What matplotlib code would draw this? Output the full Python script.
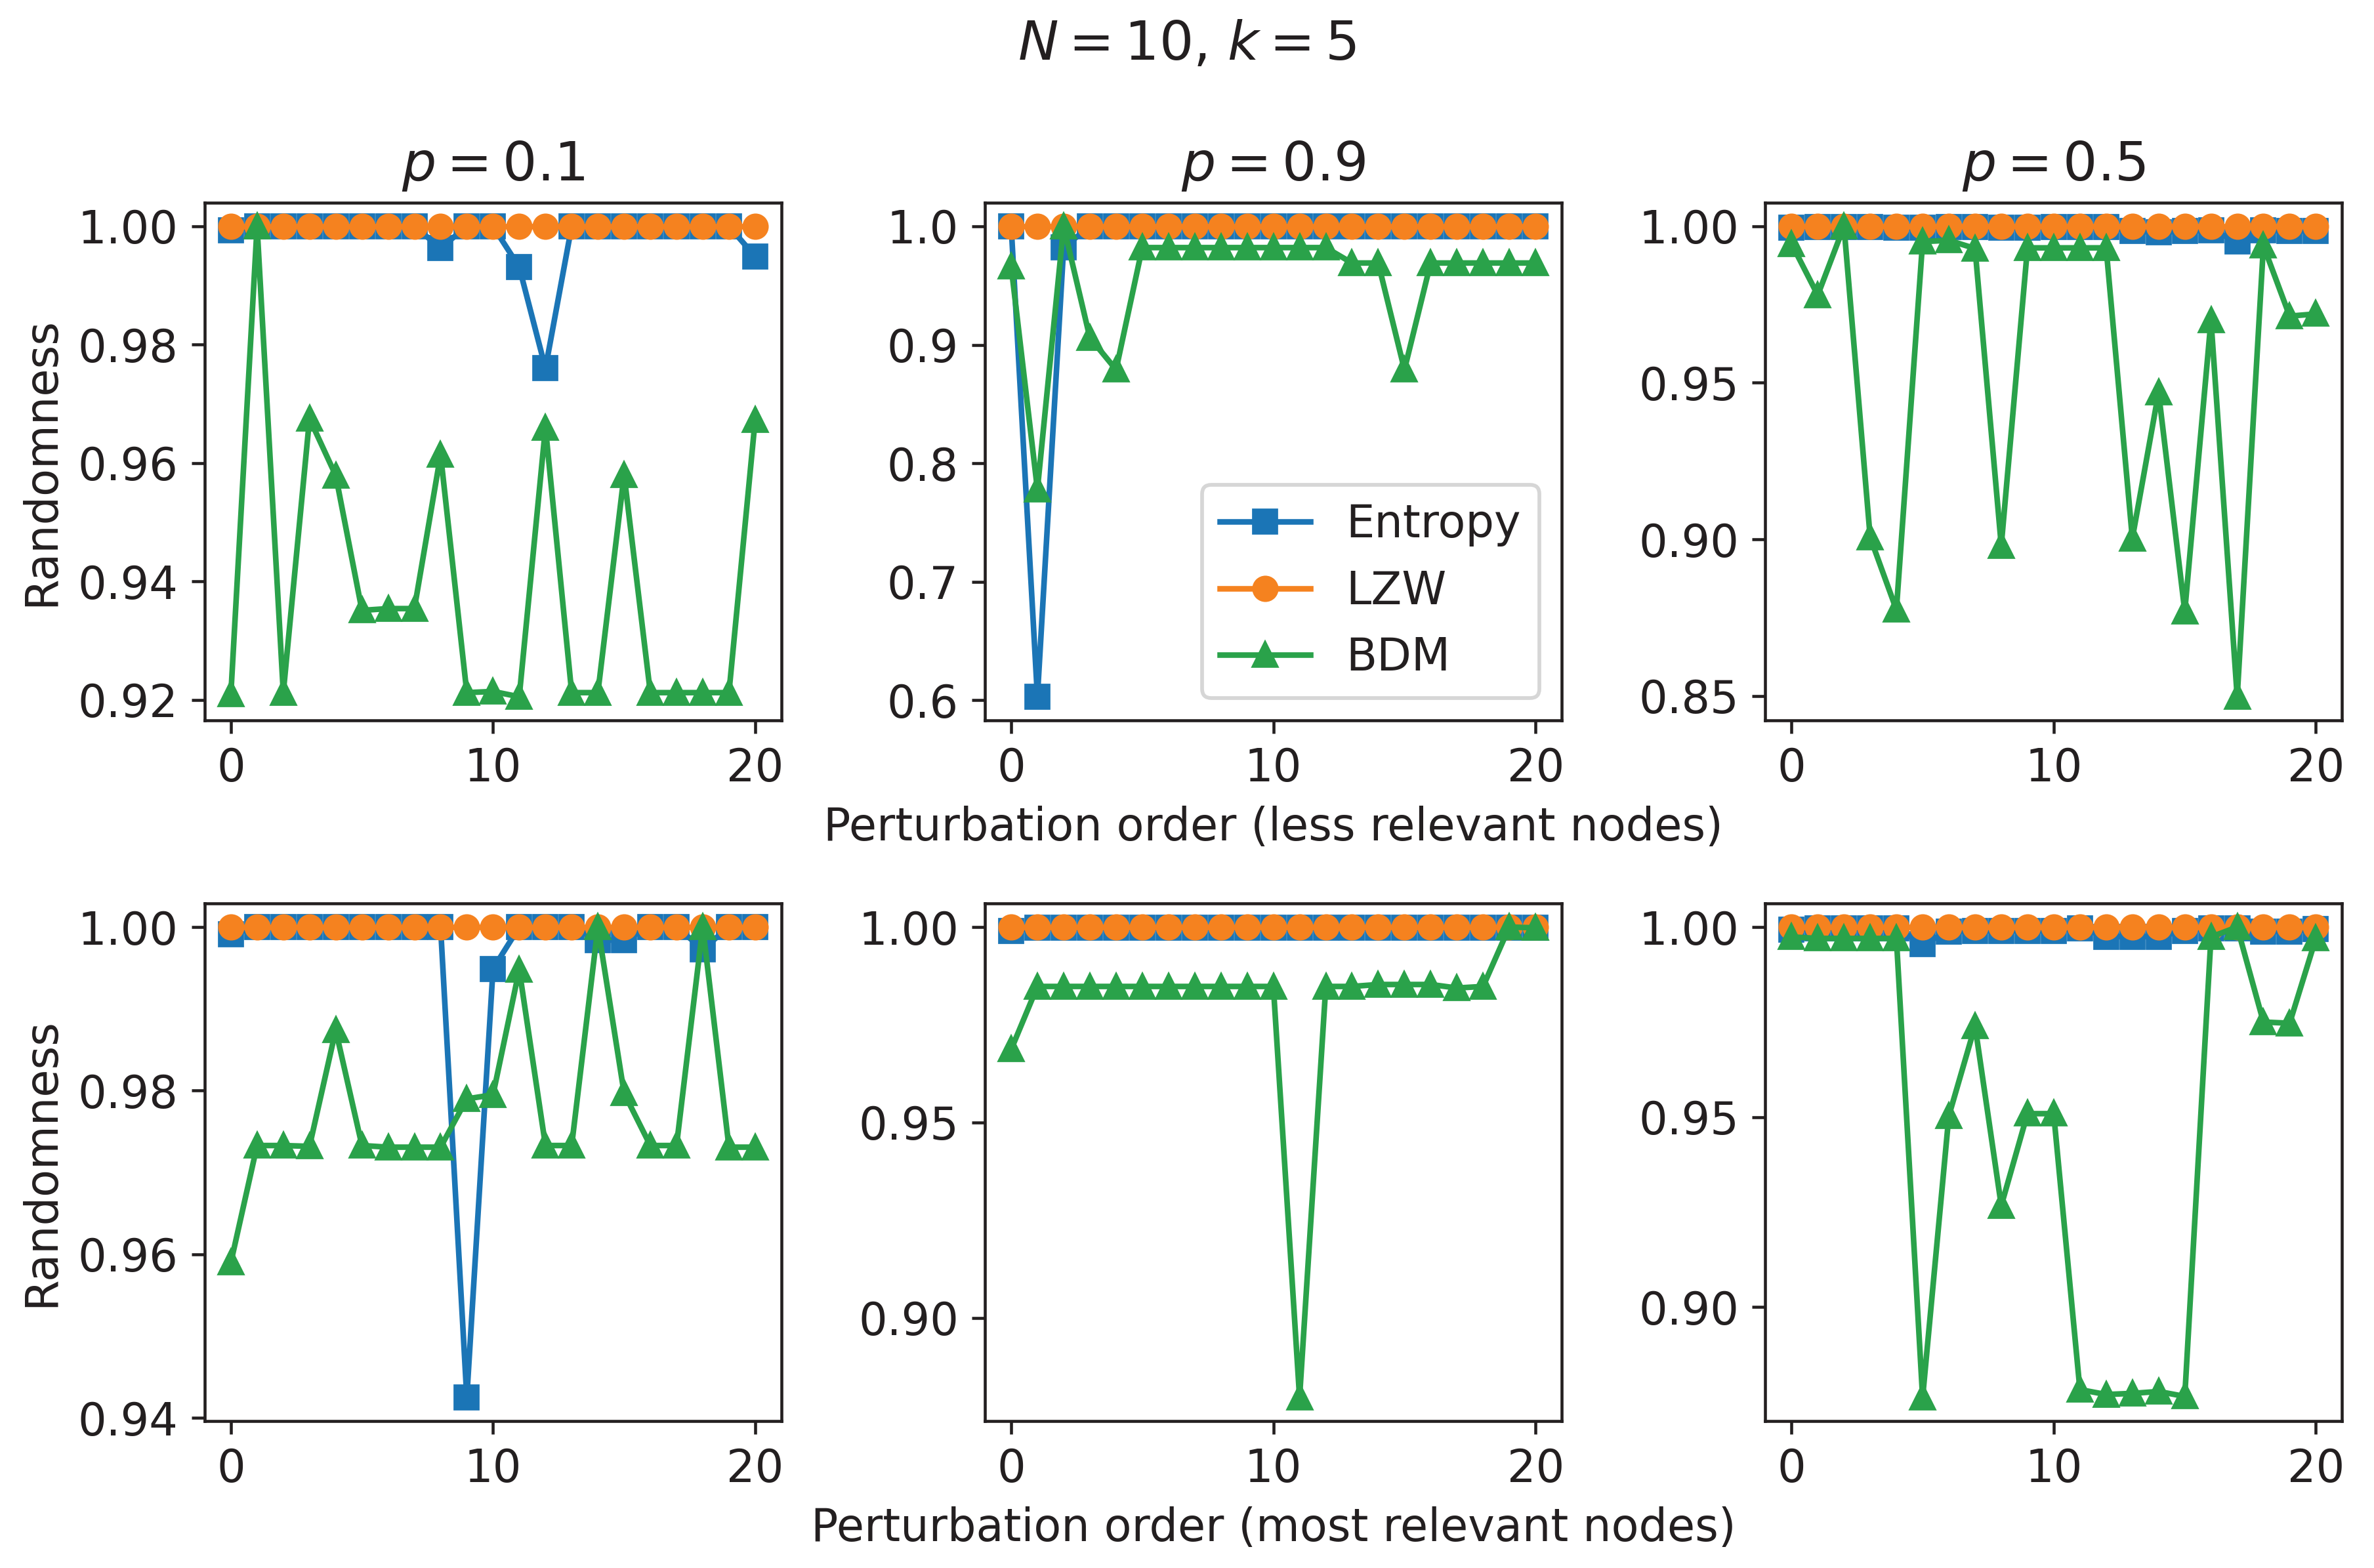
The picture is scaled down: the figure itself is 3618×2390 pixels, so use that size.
import numpy as np
import matplotlib
matplotlib.use("Agg")
import matplotlib.pyplot as plt
from matplotlib.ticker import MultipleLocator, FormatStrFormatter

# Colours as they appear in the reference
c_entropy = "#1b75b6"
c_lzw = "#f5821f"
c_bdm = "#2aa24a"
ink = "#231f20"

plt.rcParams["font.size"] = 12
plt.rcParams["text.color"] = ink
plt.rcParams["axes.edgecolor"] = ink
plt.rcParams["axes.labelcolor"] = ink
plt.rcParams["xtick.color"] = ink
plt.rcParams["ytick.color"] = ink

order = np.arange(21)
p_titles = ["$p = 0.1$", "$p = 0.9$", "$p = 0.5$"]

# top row: less relevant nodes
entropy_less_01 = [0.9993, 1.0, 1.0, 1.0, 1.0, 1.0, 1.0, 1.0, 0.9963, 1.0, 1.0,
                   0.9931, 0.9760, 1.0, 1.0, 1.0, 1.0, 1.0, 1.0, 1.0, 0.9949]
lzw_less_01 = [1.0] * 21
bdm_less_01 = [0.9209, 1.0, 0.9212, 0.9675, 0.9579, 0.9351, 0.9354, 0.9354, 0.9614, 0.9212, 0.9214,
               0.9205, 0.9660, 0.9212, 0.9212, 0.9580, 0.9212, 0.9212, 0.9212, 0.9212, 0.9673]

entropy_less_09 = [1.0, 0.603, 0.982, 1.0, 1.0, 1.0, 1.0, 1.0, 1.0, 1.0, 1.0,
                   1.0, 1.0, 1.0, 1.0, 1.0, 1.0, 1.0, 1.0, 1.0, 1.0]
lzw_less_09 = [1.0] * 21
bdm_less_09 = [0.966, 0.778, 1.0, 0.906, 0.879, 0.982, 0.982, 0.982, 0.982, 0.982, 0.982,
               0.982, 0.982, 0.969, 0.969, 0.879, 0.969, 0.969, 0.969, 0.969, 0.969]

entropy_less_05 = [0.9995, 0.9998, 0.9998, 0.9998, 0.9995, 0.9995, 0.9998, 0.9997, 0.9995, 0.9995, 0.9997,
                   0.9997, 0.9997, 0.9985, 0.9980, 0.9985, 0.9987, 0.9952, 0.9987, 0.9985, 0.9985]
lzw_less_05 = [1.0] * 21
bdm_less_05 = [0.9944, 0.9780, 1.0, 0.9006, 0.8775, 0.9951, 0.9955, 0.9929, 0.8980, 0.9931, 0.9931,
               0.9931, 0.9931, 0.9003, 0.9469, 0.8770, 0.9700, 0.8497, 0.9938, 0.9713, 0.9720]

# bottom row: most relevant nodes
entropy_most_01 = [0.9991, 1.0, 1.0, 1.0, 1.0, 1.0, 1.0, 1.0, 1.0, 0.9425, 0.9949,
                   1.0, 1.0, 1.0, 0.9984, 0.9984, 1.0, 1.0, 0.9973, 1.0, 1.0]
lzw_most_01 = [1.0] * 21
bdm_most_01 = [0.9590, 0.9733, 0.9733, 0.9732, 0.9874, 0.9733, 0.9731, 0.9731, 0.9731, 0.9790, 0.9795,
               0.9948, 0.9733, 0.9733, 1.0, 0.9797, 0.9733, 0.9733, 1.0, 0.9731, 0.9731]

entropy_most_09 = [0.9990, 0.9998, 0.9998, 0.9998, 0.9998, 0.9998, 0.9998, 0.9998, 0.9998, 0.9998, 0.9998,
                   0.9998, 0.9998, 0.9998, 0.9998, 0.9998, 0.9998, 0.9998, 0.9998, 0.9998, 0.9998]
lzw_most_09 = [1.0] * 21
bdm_most_09 = [0.9687, 0.9848, 0.9848, 0.9848, 0.9848, 0.9848, 0.9848, 0.9848, 0.9848, 0.9848, 0.9848,
               0.8796, 0.9848, 0.9848, 0.9853, 0.9853, 0.9853, 0.9844, 0.9848, 1.0, 0.9998]

entropy_most_05 = [0.9993, 0.9996, 0.9996, 0.9996, 0.9996, 0.9955, 0.9988, 0.9990, 0.9990, 0.9990, 0.9990,
                   0.9997, 0.9975, 0.9975, 0.9975, 0.9990, 0.9997, 0.9997, 0.9988, 0.9988, 0.9995]
lzw_most_05 = [1.0] * 21
bdm_most_05 = [0.9974, 0.9970, 0.9970, 0.9970, 0.9970, 0.8762, 0.9503, 0.9740, 0.9267, 0.9509, 0.9509,
               0.8783, 0.8770, 0.8773, 0.8778, 0.8765, 0.9974, 1.0, 0.9750, 0.9747, 0.9970]

panels = [
    [(entropy_less_01, lzw_less_01, bdm_less_01),
     (entropy_less_09, lzw_less_09, bdm_less_09),
     (entropy_less_05, lzw_less_05, bdm_less_05)],
    [(entropy_most_01, lzw_most_01, bdm_most_01),
     (entropy_most_09, lzw_most_09, bdm_most_09),
     (entropy_most_05, lzw_most_05, bdm_most_05)],
]

fig, axs = plt.subplots(2, 3, figsize=(8.782, 5.801))
fig.subplots_adjust(left=0.0862, right=0.9865, top=0.8707, bottom=0.0937,
                    wspace=0.353, hspace=0.354)

for r in range(2):
    for c in range(3):
        ax = axs[r, c]
        ent, lzw, bdm = panels[r][c]
        ax.plot(order, ent, marker="s", color=c_entropy, label="Entropy")
        ax.plot(order, lzw, marker="o", color=c_lzw, label="LZW")
        ax.plot(order, bdm, marker="^", color=c_bdm, label="BDM")
        if r == 0:
            ax.set_title(p_titles[c])

# the two lower right panels use 0.05 steps in the reference
for ax in (axs[1, 1], axs[1, 2]):
    ax.yaxis.set_major_locator(MultipleLocator(0.05))
    ax.yaxis.set_major_formatter(FormatStrFormatter("%.2f"))

axs[0, 0].set_ylabel("Randomness")
axs[1, 0].set_ylabel("Randomness")
axs[0, 1].set_xlabel("Perturbation order (less relevant nodes)")
axs[1, 1].set_xlabel("Perturbation order (most relevant nodes)")
axs[0, 1].legend(loc="lower right")

fig.suptitle("$N = 10$, $k = 5$", y=0.988)

fig.savefig("out.png", dpi=412)
